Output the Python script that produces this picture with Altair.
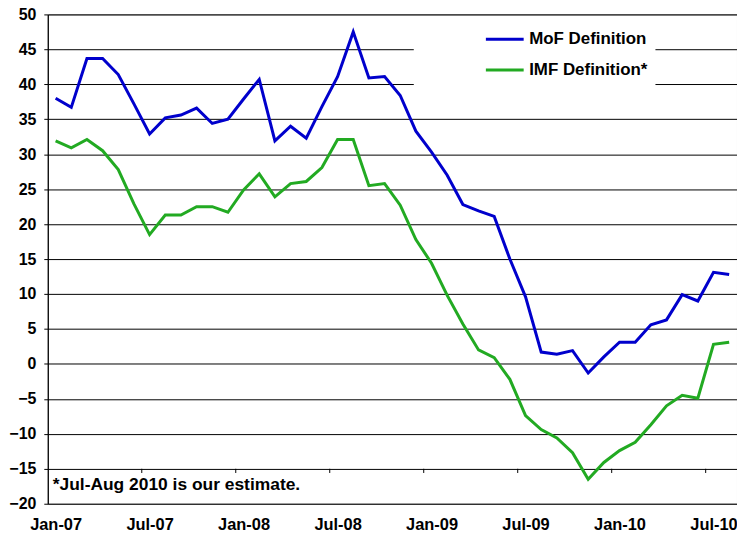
import altair as alt
import pandas as pd

# Monthly categories Jan-07 .. Aug-10
months = pd.date_range("2007-01-01", "2010-08-01", freq="MS").strftime("%b-%y").tolist()

series_names = ["MoF Definition", "IMF Definition*"]
series_colors = ["#0000CC", "#22AA22"]

mof = [38.0, 36.7, 43.7, 43.7, 41.4, 37.2, 32.9, 35.2, 35.6, 36.6, 34.4, 35.0,
       37.9, 40.7, 31.9, 34.0, 32.3, 36.8, 41.1, 47.5, 40.9, 41.1, 38.4, 33.3,
       30.3, 27.0, 22.8, 21.9, 21.1, 15.0, 9.6, 1.7, 1.4, 1.9, -1.3, 1.0,
       3.1, 3.1, 5.6, 6.3, 9.9, 9.0, 13.1, 12.8]
imf = [31.9, 30.9, 32.1, 30.5, 27.8, 22.9, 18.5, 21.3, 21.3, 22.5, 22.5, 21.7,
       24.9, 27.2, 23.9, 25.8, 26.1, 28.1, 32.1, 32.1, 25.5, 25.8, 22.7, 17.8,
       14.4, 9.8, 5.7, 2.0, 0.9, -2.2, -7.4, -9.4, -10.6, -12.7, -16.5, -14.1,
       -12.4, -11.2, -8.7, -6.0, -4.5, -4.9, 2.8, 3.1]

tick_labels = ["Jan-07", "Jul-07", "Jan-08", "Jul-08", "Jan-09", "Jul-09", "Jan-10", "Jul-10"]
y_ticks = list(range(-20, 51, 5))
note = "*Jul-Aug 2010 is our estimate."

FONT = "Liberation Sans"

rows = []
for i, m in enumerate(months):
    rows.append({"idx": i, "month": m, "series": series_names[0], "value": mof[i]})
    rows.append({"idx": i, "month": m, "series": series_names[1], "value": imf[i]})
df = pd.DataFrame(rows)

label_idx = [months.index(t) for t in tick_labels]
# x-axis crosses at -15: small tick marks at category boundaries
boundaries = pd.DataFrame({"idx": [i - 0.5 for i in label_idx[1:]]})
boundaries["value"] = -15
boundaries["value2"] = -15.6

x_scale = alt.Scale(domain=[-0.5, len(months) - 0.5], nice=False, zero=False)
y_scale = alt.Scale(domain=[-20, 50], nice=False, zero=False)

label_array = "[" + ",".join('"%s"' % t for t in tick_labels) + "]"

x_axis = alt.Axis(values=label_idx, labelExpr=label_array + "[round(datum.value/6)]",
                  title=None, ticks=False, domain=False, grid=False,
                  labelFont=FONT, labelFontSize=16.5, labelFontWeight="bold",
                  labelColor="#000", labelPadding=13)
y_axis = alt.Axis(values=y_ticks, title=None, grid=True, gridColor="#000",
                  gridOpacity=1, gridWidth=1, domainColor="#000", domainWidth=1.2,
                  tickColor="#000", tickSize=4, labelPadding=8, labelOverlap=False,
                  labelFont=FONT, labelFontSize=16, labelFontWeight="bold",
                  labelColor="#000")

lines = alt.Chart(df).mark_line(strokeWidth=3).encode(
    x=alt.X("idx:Q", scale=x_scale, axis=x_axis),
    y=alt.Y("value:Q", scale=y_scale, axis=y_axis),
    color=alt.Color("series:N", scale=alt.Scale(domain=series_names, range=series_colors),
                    legend=alt.Legend(title=None, orient="none", legendX=368, legendY=10,
                                      fillColor="white", padding=8, symbolOffset=63,
                                      symbolType="stroke", symbolSize=1444,
                                      symbolStrokeWidth=3, clipHeight=14, rowPadding=14,
                                      labelOffset=4, labelFont=FONT, labelFontSize=17,
                                      labelFontWeight="bold", labelColor="#000")),
    order="idx:Q",
)

ticks = alt.Chart(boundaries).mark_rule(color="#000", strokeWidth=1).encode(
    x=alt.X("idx:Q", scale=x_scale, axis=x_axis),
    y=alt.Y("value:Q", scale=y_scale, axis=y_axis),
    y2="value2:Q",
)

note_text = alt.Chart(pd.DataFrame({"t": [note]})).mark_text(
    align="left", baseline="middle", font=FONT, fontSize=17.5, fontWeight="bold", color="#000"
).encode(text="t:N", x=alt.value(5), y=alt.value(473))

chart = alt.layer(lines, ticks, note_text).properties(
    width=693, height=492,
    autosize=alt.AutoSizeParams(type="none"),
    padding={"left": 40, "top": 5, "right": 0, "bottom": 30},
).configure_view(stroke="#808080", strokeWidth=1)

chart.save("out.html", embed_options={"renderer": "svg", "actions": False})
